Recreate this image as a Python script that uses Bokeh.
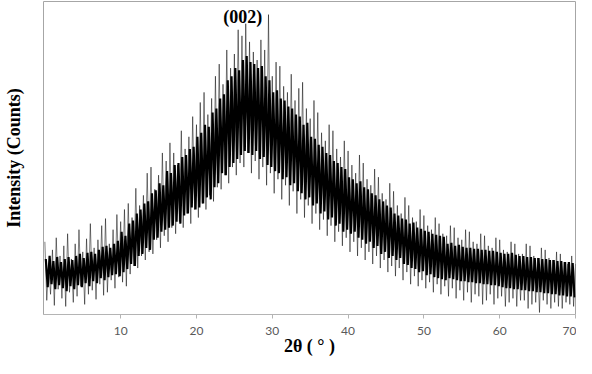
from bokeh.plotting import figure
from bokeh.models import FixedTicker, Range1d
from bokeh.embed import file_html
from bokeh.resources import INLINE

# Light spike trace (hand-read, arbitrary counts), 2θ = 0, 0.25, 0.5 ... 70
spike_start, spike_step = 0.0, 0.25
spikes = [
    72, 14, 50, 20,   64, 9, 76, 25,    58, 16, 68, 8,    80, 22, 55, 12,
    70, 18, 84, 28,   62, 10, 75, 20,   90, 24, 66, 15,   74, 30, 88, 19,
    95, 22, 70, 34,   84, 26, 99, 37,   92, 32, 104, 28,  110, 40, 96, 48,
    125, 46, 108, 58, 118, 54, 140, 62, 146, 60, 124, 74, 138, 66, 160, 78,
    152, 72, 170, 86, 160, 80, 148, 92, 182, 86, 164, 100, 176, 90, 196, 104,
    188, 96, 210, 110, 220, 104, 198, 118, 214, 112, 236, 126, 248, 124, 228, 138,
    262, 130, 244, 146, 258, 138, 282, 150, 276, 146, 288, 160, 270, 140, 260, 152,
    252, 134, 272, 146, 262, 128, 297, 140, 236, 120, 250, 134, 246, 114, 226, 128,
    220, 108, 238, 122, 212, 100, 224, 114, 230, 96, 204, 108, 194, 90, 212, 100,
    200, 84, 180, 94,  172, 78, 188, 88,  182, 72, 164, 82,  156, 68, 172, 76,
    162, 62, 148, 72,  140, 58, 158, 66,  150, 54, 134, 62,  128, 50, 144, 58,
    136, 46, 120, 54,  114, 42, 130, 48,  122, 38, 108, 46,  100, 34, 116, 42,
    108, 30, 96, 38,   92, 28, 104, 34,   98, 26, 88, 32,    84, 22, 96, 30,
    90, 20, 80, 28,    78, 18, 88, 26,    86, 16, 76, 24,    74, 14, 84, 22,
    82, 12, 72, 20,    70, 18, 80, 10,    78, 14, 68, 20,    66, 10, 76, 16,
    74, 18, 64, 8,     62, 12, 72, 16,    70, 8, 60, 14,     60, 14, 70, 6,
    68, 10, 58, 12,    56, 2, 66, 14,     64, 10, 56, 6,     54, 12, 62, 8,
    60, 6, 52, 12,     50, 10, 58, 8,
    50,
]

# Dense dark core trace (hand-read), 2θ = 0.125, 0.375 ... 69.875
core_start, core_step = 0.125, 0.25
core = [
    55, 27, 58, 30,   53, 25, 57, 29,   52, 26, 55, 23,   57, 28, 54, 25,
    58, 29, 60, 27,   56, 31, 61, 28,   62, 33, 60, 31,   64, 36, 67, 34,
    68, 37, 66, 39,   70, 40, 73, 38,   82, 42, 78, 45,   90, 50, 93, 48,
    100, 58, 104, 60, 110, 66, 112, 64, 120, 74, 123, 76, 130, 82, 128, 84,
    142, 86, 140, 88, 148, 92, 150, 90, 156, 98, 158, 100, 164, 106, 166, 104,
    176, 106, 180, 110, 188, 116, 186, 114, 200, 126, 204, 130, 214, 140, 218, 138,
    232, 146, 236, 150, 244, 154, 242, 158, 252, 162, 256, 160, 250, 158, 248, 162,
    244, 154, 246, 156, 236, 148, 232, 146, 220, 142, 222, 140, 214, 134, 212, 136,
    206, 128, 204, 130, 198, 122, 196, 120, 188, 114, 190, 116, 176, 108, 174, 110,
    168, 100, 166, 102, 160, 94, 158, 96, 152, 88, 150, 90, 146, 82, 144, 84,
    136, 80, 134, 82, 130, 76, 132, 74, 126, 70, 124, 72, 120, 66, 118, 68,
    114, 60, 112, 62, 108, 56, 106, 58, 100, 54, 98, 56,  95, 50, 94, 49,
    90, 46, 91, 45,   86, 42, 85, 43,   83, 39, 82, 40,   80, 37, 79, 36,
    78, 35, 77, 34,   70, 36, 71, 35,   68, 34, 69, 33,   67, 33, 66, 32,
    66, 32, 65, 31,   65, 31, 64, 30,   64, 30, 63, 29,   63, 29, 62, 28,
    61, 27, 60, 26,   60, 26, 61, 25,   59, 25, 58, 24,   58, 24, 57, 23,
    57, 23, 56, 22,   56, 22, 55, 21,   55, 21, 54, 20,   54, 20, 53, 19,
    53, 19, 52, 18,   52, 18, 51, 17,
]

x_ticks = [10, 20, 30, 40, 50, 60, 70]
peak_label = "(002)"
peak_pos, peak_height = 26.1, 295

spike_x = [spike_start + i * spike_step for i in range(len(spikes))]
core_x = [core_start + i * core_step for i in range(len(core))]

p = figure(width=576, height=358, output_backend="svg", toolbar_location=None,
           x_range=Range1d(-0.18, 70), y_range=Range1d(0, 310),
           min_border_left=35, min_border_right=1, min_border_top=1,
           min_border_bottom=40)

p.line(x=spike_x, y=spikes, line_color="black", line_alpha=0.5, line_width=1)
p.line(x=core_x, y=core, line_color="black", line_alpha=1.0, line_width=2.2)

p.text(x=[peak_pos], y=[peak_height], text=[peak_label], text_align="center",
       text_baseline="middle", text_font={"value": "Liberation Serif"},
       text_font_style="bold", text_font_size="18px", text_color="black")

p.grid.visible = False
p.outline_line_color = "#a6a6a6"
p.outline_line_width = 1

xa = p.xaxis[0]
xa.ticker = FixedTicker(ticks=x_ticks)
xa.axis_line_color = "#b4b4b4"
xa.major_tick_line_color = "#b4b4b4"
xa.major_tick_out = 4
xa.major_tick_in = 0
xa.minor_tick_line_color = None
xa.major_label_text_font = "Lato"
xa.major_label_text_font_size = "12px"
xa.major_label_text_color = "#595959"
xa.major_label_standoff = 8
xa.axis_label = "2θ ( ° )"
xa.axis_label_text_font = "Liberation Serif"
xa.axis_label_text_font_style = "bold"
xa.axis_label_text_font_size = "18px"
xa.axis_label_text_color = "black"
xa.axis_label_standoff = -2

ya = p.yaxis[0]
ya.axis_line_color = None
ya.major_tick_line_color = None
ya.minor_tick_line_color = None
ya.major_label_text_font_size = "0px"
ya.major_label_standoff = 0
ya.axis_label = "Intensity (Counts)"
ya.axis_label_text_font = "Liberation Serif"
ya.axis_label_text_font_style = "bold"
ya.axis_label_text_font_size = "18px"
ya.axis_label_text_color = "black"
ya.axis_label_standoff = 14

open("out.html", "w").write(file_html(p, INLINE))
